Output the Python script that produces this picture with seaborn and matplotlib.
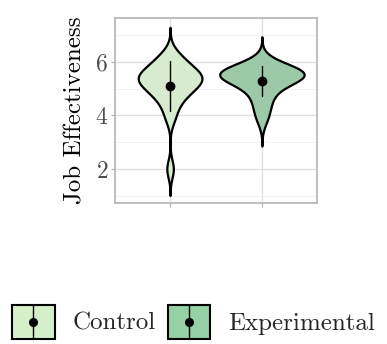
import numpy as np
import pandas as pd
import seaborn as sns
import matplotlib
matplotlib.use("Agg")
import matplotlib.pyplot as plt
from matplotlib.patches import Patch, Rectangle
from matplotlib.lines import Line2D

groups = ["Control", "Experimental"]
control_scores = [2.0, 3.9, 4.3, 4.6, 4.75, 4.9, 5.0, 5.1, 5.2, 5.3, 5.35, 5.4, 5.45,
                  5.5, 5.6, 5.7, 5.8, 5.95, 6.1, 6.3]
experimental_scores = [3.85, 4.2, 4.5, 4.75, 4.95, 5.15, 5.25, 5.35, 5.4, 5.45, 5.5,
                       5.5, 5.55, 5.55, 5.6, 5.65, 5.7, 5.75, 5.85, 5.95]
colors = ["#d5efcb", "#95d1a4"]
y_ticks = [2, 4, 6]

df = pd.DataFrame({
    "group": ["Control"] * len(control_scores) + ["Experimental"] * len(experimental_scores),
    "score": control_scores + experimental_scores,
})

sns.set_theme(style="white")
plt.rcParams["font.family"] = ["cmr10", "DejaVu Serif"]
plt.rcParams["axes.formatter.use_mathtext"] = True
plt.rcParams["mathtext.fontset"] = "cm"

fig = plt.figure(figsize=(3.87, 3.44), dpi=100)
ax = fig.add_axes([115 / 387, 1 - 203 / 344, (317 - 115) / 387, (203 - 18) / 344])

BW = 0.33
sns.violinplot(data=df, x="group", y="score", hue="group", order=groups,
               hue_order=groups, palette=colors, inner=None, cut=3,
               bw_method=lambda k: BW / np.std(k.dataset, ddof=1),
               width=0.92, linewidth=1.6, linecolor="black",
               density_norm="area", common_norm=True, legend=False, ax=ax,
               zorder=3)
sns.pointplot(data=df, x="group", y="score", order=groups, errorbar="sd",
              color="black", linestyle="none", marker="o", markersize=5,
              err_kws={"linewidth": 1.0}, ax=ax, zorder=4)

ax.set_xlim(-0.6, 1.6)
ax.set_ylim(0.73, 7.64)
ax.set_yticks(y_ticks)
ax.set_yticks([1, 3, 5, 7], minor=True)
ax.set_xticks([0, 1])
ax.set_xticklabels([])
ax.set_xlabel("")
ax.set_ylabel("Job Effectiveness", fontsize=18, color="black", labelpad=6)
ax.tick_params(axis="y", which="major", labelsize=17, labelcolor="#4d4d4d",
               length=3, color="#b3b3b3", width=0.8, pad=2, left=True)
ax.tick_params(axis="y", which="minor", length=0, left=False)
ax.tick_params(axis="x", length=3, color="#b3b3b3", width=0.8, bottom=True)
ax.grid(True, which="major", color="#dedede", linewidth=0.9)
ax.grid(True, which="minor", color="#f0f0f0", linewidth=0.6)
ax.set_axisbelow(True)
for s in ax.spines.values():
    s.set_color("#b3b3b3")
    s.set_linewidth(1.2)


class ViolinKeyHandler:
    def legend_artist(self, legend, orig_handle, fontsize, handlebox):
        x0, y0 = -handlebox.xdescent, -handlebox.ydescent
        w, h = handlebox.width, handlebox.height
        tr = handlebox.get_transform()
        rect = Rectangle((x0, y0), w, h, facecolor=orig_handle.get_facecolor(),
                         edgecolor="black", linewidth=1.5, transform=tr)
        vline = Line2D([x0 + w / 2] * 2, [y0, y0 + h], color="black",
                       linewidth=1.0, transform=tr)
        dot = Line2D([x0 + w / 2], [y0 + h / 2], marker="o", markersize=5.5,
                     color="black", linestyle="none", transform=tr)
        for a in (rect, vline, dot):
            handlebox.add_artist(a)
        return rect


handles = [Patch(facecolor=c) for c in colors]
fig.legend(handles, groups, handler_map={Patch: ViolinKeyHandler()},
           loc="center", bbox_to_anchor=(0.5, 0.065), ncol=2, frameon=False,
           fontsize=18, handlelength=1.7, handleheight=1.7, handletextpad=0.7,
           columnspacing=0.5, borderpad=0, borderaxespad=0)

fig.savefig("out.png", dpi=100)
